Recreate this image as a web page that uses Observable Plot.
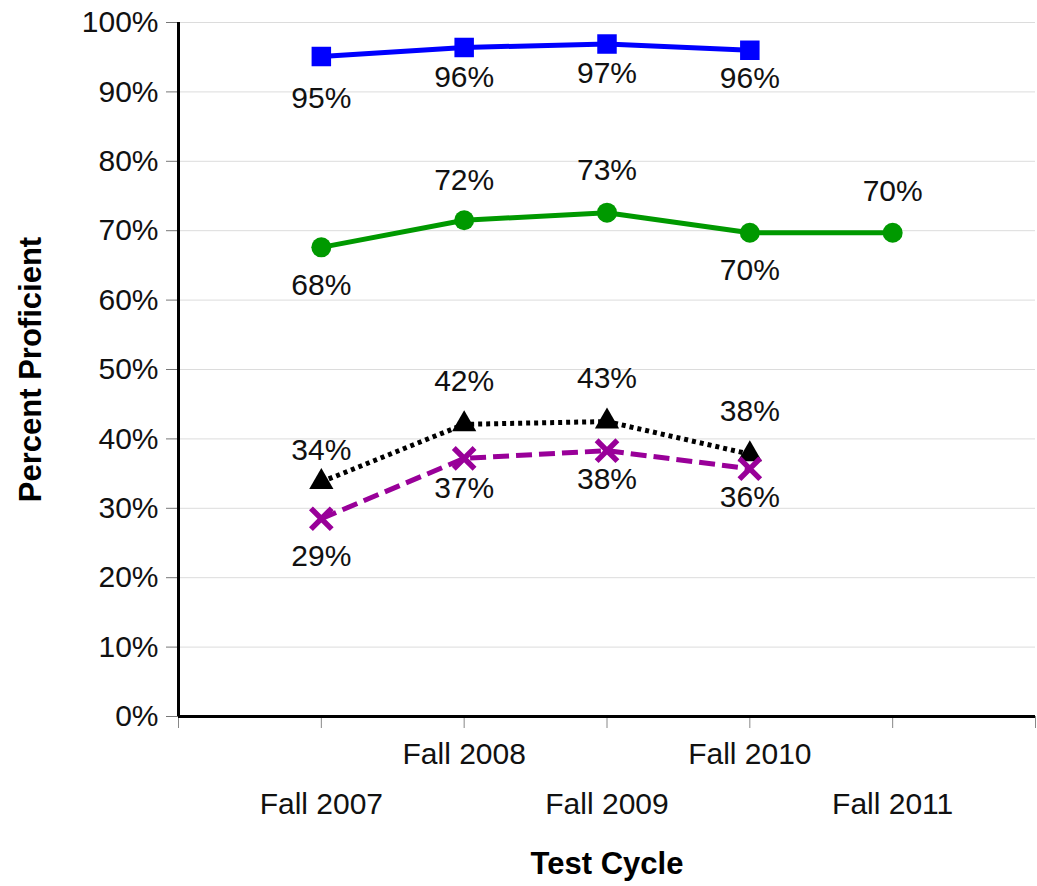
<!DOCTYPE html>
<html>
<head>
<meta charset="utf-8">
<script src="https://cdn.jsdelivr.net/npm/d3@7"></script>
<script src="https://cdn.jsdelivr.net/npm/@observablehq/plot@0.6"></script>
<style>
  html, body { margin: 0; padding: 0; background: #fff; }
  #chart svg { display: block; }
</style>
</head>
<body>
<div id="chart"></div>
<script>
// ---- Data ----
const cycles = ["Fall 2007", "Fall 2008", "Fall 2009", "Fall 2010", "Fall 2011"];

const blueValues   = [95.1, 96.4, 96.9, 96.0, null];
const blueLabels   = ["95%", "96%", "97%", "96%", null];

const greenValues  = [67.6, 71.5, 72.6, 69.7, 69.7];
const greenLabels  = ["68%", "72%", "73%", "70%", "70%"];

const blackValues  = [33.8, 42.1, 42.5, 37.8, null];
const blackLabels  = ["34%", "42%", "43%", "38%", null];

const purpleValues = [28.5, 37.2, 38.3, 35.7, null];
const purpleLabels = ["29%", "37%", "38%", "36%", null];

const yTicks = [0, 10, 20, 30, 40, 50, 60, 70, 80, 90, 100];

// ---- Styles (kept apart from the data) ----
const styles = {
  blue:   {stroke: "#0000ff", symbol: "square",   r: 11,  fill: "#0000ff", dash: null,   width: 5, labelDy: [42, 30, 29, 28, 0]},
  green:  {stroke: "#009900", symbol: "circle",   r: 10,  fill: "#009900", dash: null,   width: 5, labelDy: [38, -40, -42, 38, -41]},
  black:  {stroke: "#000000", symbol: "triangle", r: 9,   fill: "#000000", dash: "4,4",  width: 5, labelDy: [-32, -43, -43, -43, 0]},
  purple: {stroke: "#990099", symbol: "times",    r: 9.5, fill: "none",    dash: "16,7", width: 5, labelDy: [38, 30, 29, 29, 0]}
};

const seriesList = [
  {key: "blue",   values: blueValues,   labels: blueLabels},
  {key: "green",  values: greenValues,  labels: greenLabels},
  {key: "black",  values: blackValues,  labels: blackLabels},
  {key: "purple", values: purpleValues, labels: purpleLabels}
];

const font = "'Liberation Sans', Arial, Helvetica, sans-serif";

const marks = [
  Plot.gridY(yTicks.filter(d => d > 0), {stroke: "#dcdcdc", strokeOpacity: 1, strokeWidth: 1}),
  Plot.axisY(yTicks, {
    tickSize: 12, tickPadding: 8, tickFormat: d => d + "%",
    fontSize: 30, stroke: "#777", fill: "#111", label: null
  }),
  Plot.axisX(d3.range(0, 7), {tickSize: 12, tickFormat: () => "", stroke: "#888", label: null}),
  Plot.axisX(cycles.map((c, i) => i + 1).filter(i => i % 2 === 0), {
    tickSize: 0, tickPadding: 26, tickFormat: i => cycles[i - 1], fontSize: 30, fill: "#111", label: null
  }),
  Plot.axisX(cycles.map((c, i) => i + 1).filter(i => i % 2 === 1), {
    tickSize: 0, tickPadding: 76, tickFormat: i => cycles[i - 1], fontSize: 30, fill: "#111", label: null
  }),
  Plot.ruleX([0], {stroke: "#000", strokeWidth: 3}),
  Plot.ruleY([0], {stroke: "#000", strokeWidth: 3}),
  Plot.text(["Percent Proficient"], {frameAnchor: "left", textAnchor: "middle", rotate: -90, dx: -147, fontSize: 31, fontWeight: "bold", fill: "#000"}),
  Plot.text(["Test Cycle"], {frameAnchor: "bottom", dy: 157, fontSize: 31, fontWeight: "bold", fill: "#000"})
];

for (const s of seriesList) {
  const st = styles[s.key];
  const rows = [];
  s.values.forEach((v, i) => {
    if (v != null) rows.push({x: i + 1, y: v, label: s.labels[i], dy: st.labelDy[i]});
  });
  marks.push(Plot.line(rows, {
    x: "x", y: "y", stroke: st.stroke, strokeWidth: st.width,
    strokeDasharray: st.dash, strokeLinecap: "butt", strokeLinejoin: "round"
  }));
  if (st.symbol === "times") {
    marks.push(Plot.dot(rows, {x: "x", y: "y", symbol: "times", r: st.r, stroke: st.stroke, strokeWidth: 5.5}));
  } else {
    marks.push(Plot.dot(rows, {x: "x", y: "y", symbol: st.symbol, r: st.r, fill: st.fill, stroke: "none"}));
  }
  for (const row of rows) {
    marks.push(Plot.text([row], {x: "x", y: "y", text: "label", dy: row.dy, fontSize: 30, fill: "#111"}));
  }
}

const chart = Plot.plot({
  width: 1037,
  height: 886,
  marginLeft: 178,
  marginRight: 2,
  marginTop: 22,
  marginBottom: 170,
  style: {fontFamily: font, background: "#fff", color: "#111"},
  x: {domain: [0, 6], axis: null},
  y: {domain: [0, 100], axis: null},
  marks
});
document.getElementById("chart").appendChild(chart);
</script>
</body>
</html>
